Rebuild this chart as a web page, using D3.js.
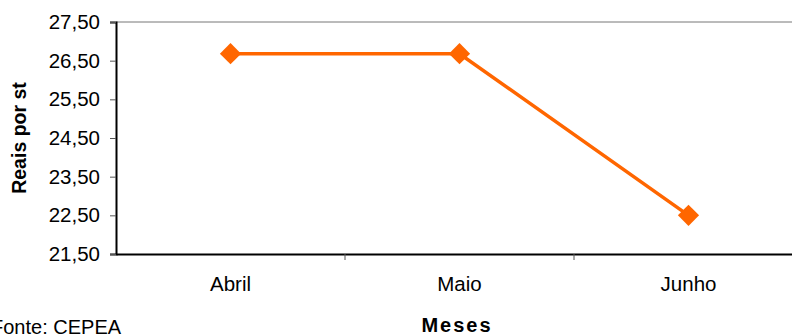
<!DOCTYPE html>
<html>
<head>
<meta charset="utf-8">
<script src="https://cdn.jsdelivr.net/npm/d3@7/dist/d3.min.js"></script>
<style>
  html, body { margin: 0; padding: 0; background: #fff; }
  svg { display: block; font-family: "Liberation Sans", Arial, sans-serif; }
</style>
</head>
<body>
<svg id="chart" width="792" height="335"></svg>
<script>
const months = ["Abril", "Maio", "Junho"];
const prices = [26.68, 26.68, 22.50];
const yTicks = [21.5, 22.5, 23.5, 24.5, 25.5, 26.5, 27.5];

const svg = d3.select("#chart");
const margin = { left: 116, top: 22, bottom: 254 };
const bandW = 229;
const plotRight = margin.left + bandW * months.length;
const FONT = "Liberation Sans, Arial, sans-serif";

const x = d3.scaleBand().domain(months).range([margin.left, plotRight]);
const y = d3.scaleLinear().domain([21.5, 27.5]).range([margin.bottom, margin.top]);
const fmt = v => d3.format(".2f")(v).replace(".", ",");

// top border of plot area
svg.append("line")
  .attr("x1", margin.left).attr("x2", plotRight)
  .attr("y1", margin.top).attr("y2", margin.top)
  .attr("stroke", "#777").attr("stroke-width", 1);

// y axis
const yAxis = svg.append("g")
  .attr("transform", `translate(${margin.left},0)`)
  .call(d3.axisLeft(y).tickValues(yTicks).tickFormat(fmt).tickSize(6).tickPadding(10));
yAxis.attr("font-size", null).attr("font-family", null);
yAxis.select(".domain").attr("stroke", "#000").attr("stroke-width", 2);
yAxis.selectAll(".tick line").attr("stroke", "#555");
yAxis.selectAll(".tick text")
  .style("font-size", "20.5px").style("font-family", FONT).attr("fill", "#000");

// x axis
const xAxis = svg.append("g")
  .attr("transform", `translate(0,${margin.bottom})`)
  .call(d3.axisBottom(x).tickSize(0).tickPadding(22));
xAxis.attr("font-size", null).attr("font-family", null);
xAxis.select(".domain").attr("stroke", "#000").attr("stroke-width", 2);
xAxis.selectAll(".tick text")
  .style("font-size", "20.5px").style("font-family", FONT).attr("fill", "#000");

// category separator ticks
svg.append("g").selectAll("line")
  .data(months.slice(1))
  .join("line")
  .attr("x1", d => x(d)).attr("x2", d => x(d))
  .attr("y1", margin.bottom).attr("y2", margin.bottom + 6)
  .attr("stroke", "#555").attr("stroke-width", 1);

// series line
const line = d3.line()
  .x((d, i) => x(months[i]) + x.bandwidth() / 2)
  .y(d => y(d));
svg.append("path")
  .datum(prices)
  .attr("fill", "none")
  .attr("stroke", "#ff6600")
  .attr("stroke-width", 3.5)
  .attr("d", line);

// diamond markers (squares turned 45 degrees)
const diamond = d3.symbol().type(d3.symbolSquare).size(225);
svg.append("g").selectAll("path")
  .data(prices)
  .join("path")
  .attr("d", diamond)
  .attr("transform", (d, i) => `translate(${x(months[i]) + x.bandwidth() / 2},${y(d)}) rotate(45)`)
  .attr("fill", "#ff6600");

// axis titles
svg.append("text")
  .attr("transform", `translate(26,${(margin.top + margin.bottom) / 2}) rotate(-90)`)
  .attr("text-anchor", "middle")
  .style("font-size", "19.5px").style("font-weight", "bold")
  .text("Reais por st");

svg.append("text")
  .attr("x", 457).attr("y", 332)
  .attr("text-anchor", "middle")
  .style("font-size", "20px").style("font-weight", "bold")
  .attr("letter-spacing", 2)
  .text("Meses");

svg.append("text")
  .attr("x", -9).attr("y", 334)
  .style("font-size", "20px")
  .text("Fonte: CEPEA");
</script>
</body>
</html>
